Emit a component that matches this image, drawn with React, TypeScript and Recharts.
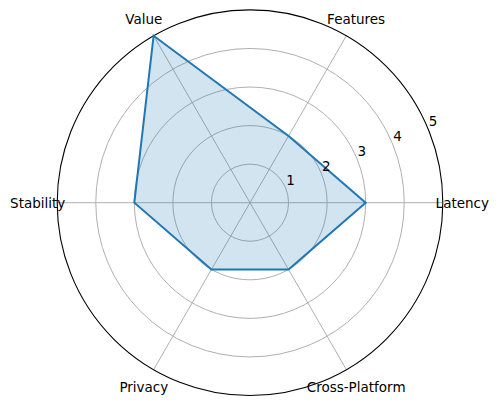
import { RadarChart, Radar, PolarGrid, PolarAngleAxis, PolarRadiusAxis } from 'recharts';

const categories = ['Latency', 'Features', 'Value', 'Stability', 'Privacy', 'Cross-Platform'];
const scores = [3, 2, 5, 3, 2, 2];
const radiusTicks = [1, 2, 3, 4, 5];

const CX = 250;
const CY = 202.7;
const OUTER = 192.8;
const MAX = 5;
const FONT = 'DejaVu Sans, sans-serif';

const data = categories.map((name, i) => ({ name, score: scores[i] }));

// category labels go counterclockwise from the right, one every 360/n degrees
const AngleTick = (props: any) => {
  const i = categories.indexOf(props.payload.value);
  const a = ((i * 360) / categories.length) * (Math.PI / 180);
  const r = OUTER + 19.5;
  return (
    <text
      x={CX + r * Math.cos(a)}
      y={CY - r * Math.sin(a)}
      textAnchor="middle"
      dominantBaseline="central"
      fontSize={13.5}
      fontFamily={FONT}
      fill="#000"
    >
      {props.payload.value}
    </text>
  );
};

const RadiusTick = (props: any) => {
  const v = props.payload.value;
  if (v === 0) return null;
  return (
    <text
      x={props.x + 5}
      y={props.y - 7.5}
      textAnchor="middle"
      dominantBaseline="central"
      fontSize={13.5}
      fontFamily={FONT}
      fill="#000"
    >
      {v}
    </text>
  );
};

export default function App() {
  return (
    <div style={{ position: 'absolute', left: 0, top: 0, width: 499, height: 405, background: '#fff' }}>
      <RadarChart
        width={499}
        height={405}
        data={data}
        cx={CX}
        cy={CY}
        outerRadius={OUTER}
        startAngle={-60}
        endAngle={300}
        margin={{ top: 0, right: 0, bottom: 0, left: 0 }}
      >
        <PolarGrid
          gridType="circle"
          polarRadius={radiusTicks.slice(0, -1).map((t) => (t / MAX) * OUTER)}
          stroke="#b0b0b0"
          strokeWidth={1}
        />
        <PolarGrid gridType="circle" polarRadius={[OUTER]} radialLines={false} stroke="#000" strokeWidth={1.1} />
        <PolarAngleAxis dataKey="name" tick={AngleTick} tickLine={false} axisLine={false} />
        <PolarRadiusAxis
          angle={22.5}
          domain={[0, MAX]}
          tickCount={6}
          tick={RadiusTick}
          axisLine={false}
          tickLine={false}
        />
        <Radar
          dataKey="score"
          stroke="#1f77b4"
          strokeWidth={2}
          fill="#1f77b4"
          fillOpacity={0.2}
          isAnimationActive={false}
        />
      </RadarChart>
    </div>
  );
}
